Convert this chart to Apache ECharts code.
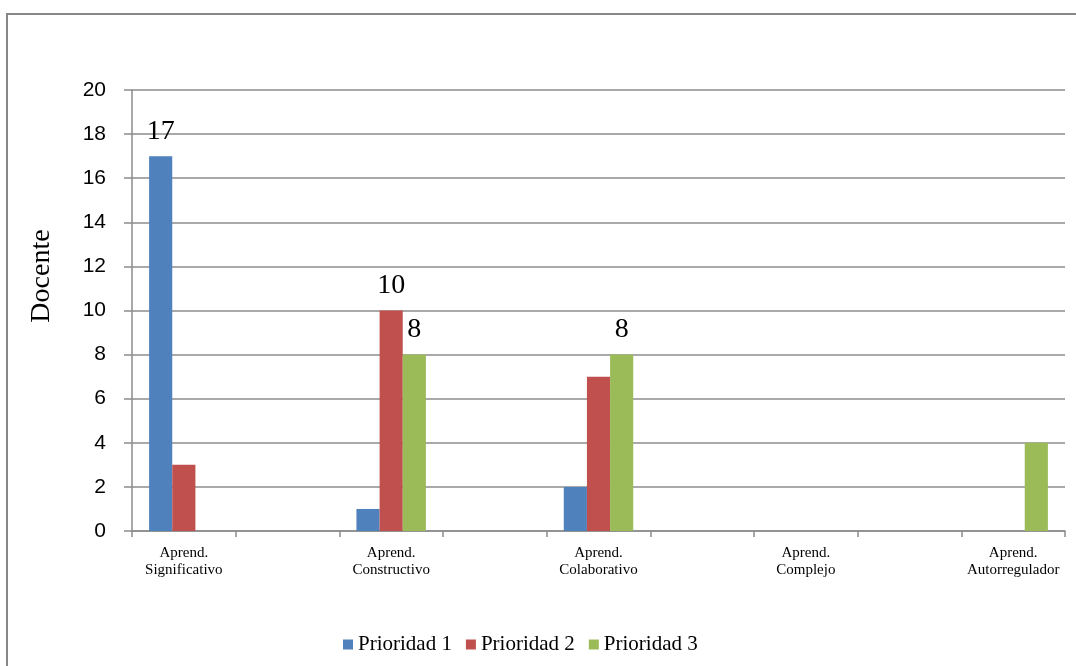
<!DOCTYPE html>
<html>
<head>
<meta charset="utf-8">
<script src="https://cdn.jsdelivr.net/npm/echarts@6/dist/echarts.min.js"></script>
<style>
html,body{margin:0;padding:0;background:#fff;}
#chart{width:1076px;height:666px;}
</style>
</head>
<body>
<div id="chart"></div>
<script>
var categories = ['Aprend.\nSignificativo', '', 'Aprend.\nConstructivo', '', 'Aprend.\nColaborativo', '', 'Aprend.\nComplejo', '', 'Aprend.\nAutorregulador'];
var seriesNames = ['Prioridad 1', 'Prioridad 2', 'Prioridad 3'];
var prioridad1 = [17, null, 1, null, 2, null, 0, null, 0];
var prioridad2 = [3, null, 10, null, 7, null, 0, null, 0];
var prioridad3 = [0, null, 8, null, 8, null, 0, null, 4];
var labeled1 = [0];
var labeled2 = [2];
var labeled3 = [2, 4];
var yTicks = [0, 2, 4, 6, 8, 10, 12, 14, 16, 18, 20];
var colors = ['#4F81BD', '#C0504D', '#9BBB59'];

var serif = '"Liberation Serif", "DejaVu Serif", serif';
var sans = '"Liberation Sans", Arial, sans-serif';

function mkSeries(name, data, labeled, color) {
  return {
    name: name,
    type: 'bar',
    data: data,
    barGap: '0%',
    barCategoryGap: '33%',
    itemStyle: { color: color },
    label: {
      show: true,
      position: 'top',
      distance: 11,
      fontFamily: serif,
      fontSize: 28,
      color: '#000',
      formatter: function (p) {
        return labeled.indexOf(p.dataIndex) >= 0 ? String(p.value) : '';
      }
    }
  };
}

var chart = echarts.init(document.getElementById('chart'));
chart.setOption({
  animation: false,
  backgroundColor: '#fff',
  graphic: [
    {
      type: 'rect',
      shape: { x: 7, y: 14, width: 1100, height: 700 },
      style: { fill: 'none', stroke: '#878787', lineWidth: 2 },
      silent: true
    },
    {
      type: 'text',
      x: 42,
      y: 276,
      rotation: Math.PI / 2,
      style: {
        text: 'Docente',
        font: '28px ' + serif,
        fill: '#000',
        align: 'center',
        verticalAlign: 'middle'
      }
    }
  ],
  legend: {
    data: seriesNames,
    left: 338,
    top: 629,
    icon: 'rect',
    itemWidth: 10,
    itemHeight: 10,
    itemGap: 14,
    textStyle: { fontFamily: serif, fontSize: 21, color: '#000' }
  },
  grid: { left: 132, right: 11, top: 90, bottom: 135, containLabel: false },
  xAxis: {
    type: 'category',
    data: categories,
    boundaryGap: true,
    axisLine: { show: true, lineStyle: { color: '#8c8c8c', width: 1.5 } },
    axisTick: { show: true, length: 6, interval: 0, lineStyle: { color: '#8c8c8c', width: 1.5 } },
    axisLabel: {
      interval: 0,
      margin: 14,
      fontFamily: serif,
      fontSize: 15,
      lineHeight: 17,
      color: '#000'
    }
  },
  yAxis: {
    type: 'value',
    min: yTicks[0],
    max: yTicks[yTicks.length - 1],
    interval: 2,
    axisLine: { show: true, lineStyle: { color: '#8c8c8c', width: 1.5 } },
    axisTick: { show: true, length: 8, lineStyle: { color: '#8c8c8c', width: 1.5 } },
    splitLine: { show: true, lineStyle: { color: '#8c8c8c', width: 1.5 } },
    axisLabel: {
      margin: 26,
      fontFamily: sans,
      fontSize: 21,
      color: '#000'
    }
  },
  series: [
    mkSeries(seriesNames[0], prioridad1, labeled1, colors[0]),
    mkSeries(seriesNames[1], prioridad2, labeled2, colors[1]),
    mkSeries(seriesNames[2], prioridad3, labeled3, colors[2])
  ]
});
</script>
</body>
</html>
